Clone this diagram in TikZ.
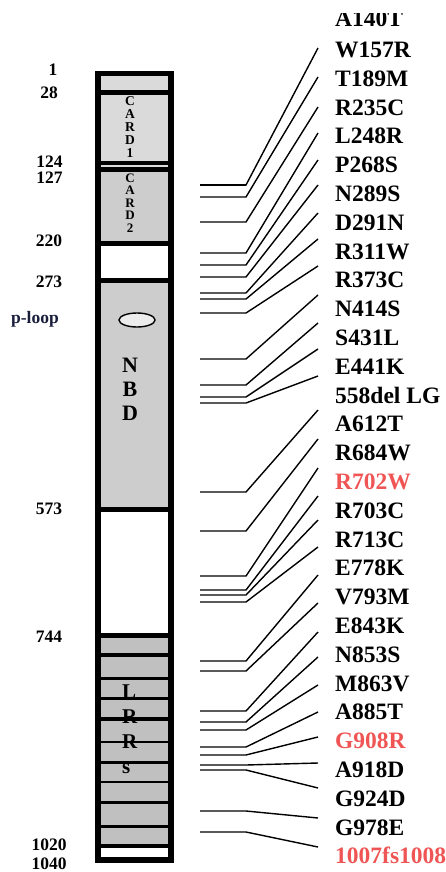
\documentclass[tikz,border=0pt]{standalone}
\usepackage{fontspec}
\setmainfont{Liberation Serif}
\usepackage{tikz}
\usetikzlibrary{shapes.geometric}
\definecolor{cardLight}{RGB}{218,218,218}
\definecolor{cardGray}{RGB}{205,205,205}
\definecolor{lrrGray}{RGB}{192,192,192}
\definecolor{mutRed}{RGB}{240,85,85}
\definecolor{loopBlue}{RGB}{25,30,60}

\tikzset{
  mutlabel/.style={anchor=base west, inner sep=0pt, font=\fontsize{23.5}{24}\selectfont\bfseries},
  poslabel/.style={anchor=base, inner sep=0pt, font=\fontsize{17.5}{18}\selectfont\bfseries},
  mutline/.style={line width=1.4pt},
}

\begin{document}
\begin{tikzpicture}[x=1pt,y=-1pt]
\useasboundingbox (0,0) rectangle (446,872);
\fill[white] (0,0) rectangle (446,872);

% protein bar
\fill[black] (95,71) rectangle (174,863);
\fill[cardLight] (101,76) rectangle (168,90);
\fill[cardLight] (101,95) rectangle (168,161);
\fill[cardLight] (101,165) rectangle (168,166.5);
\fill[cardGray] (101,172) rectangle (168,241);
\fill[white] (101,246) rectangle (168,278);
\fill[cardGray] (101,283) rectangle (168,507);
\fill[white] (101,512) rectangle (168,633);
\fill[lrrGray] (101,638) rectangle (168,653);
\fill[lrrGray] (101,657) rectangle (168,677);
\fill[lrrGray] (101,680) rectangle (168,697);
\fill[lrrGray] (101,700) rectangle (168,717);
\fill[lrrGray] (101,721) rectangle (168,741);
\fill[lrrGray] (101,743) rectangle (168,761);
\fill[lrrGray] (101,764) rectangle (168,781);
\fill[lrrGray] (101,783) rectangle (168,801);
\fill[lrrGray] (101,804) rectangle (168,825);
\fill[lrrGray] (101,828) rectangle (168,844);
\fill[white] (101,848) rectangle (168,857);

% domain names
\node[align=center, inner sep=0pt, font=\fontsize{13.5}{13}\selectfont\bfseries] (card1) at (130,127.5) {C\\A\\R\\D\\1};
\node[align=center, inner sep=0pt, font=\fontsize{13}{12.5}\selectfont\bfseries] (card2) at (130,203) {C\\A\\R\\D\\2};
\node[ellipse, draw, line width=1.4pt, fill=gray!15, minimum width=36pt, minimum height=14pt, inner sep=0pt] (ploopmark) at (137,320) {};
\node[align=center, inner sep=0pt, font=\fontsize{22}{24}\selectfont\bfseries] (nbd) at (130,389) {N\\B\\D};
\node[align=left, anchor=west, inner sep=0pt, font=\fontsize{21}{25}\selectfont\bfseries] (lrrs) at (122,729.5) {L\\R\\R\\s};

% residue numbers
\node[poslabel] (p1) at (53,76) {1};
\node[poslabel] (p28) at (49,99) {28};
\node[poslabel] (p124) at (49.5,167) {124};
\node[poslabel] (p127) at (49.5,183) {127};
\node[poslabel] (p220) at (49,246) {220};
\node[poslabel] (p273) at (49,287) {273};
\node[poslabel, text=loopBlue] (ploop) at (35,323.5) {p-loop};
\node[poslabel] (p573) at (49,514) {573};
\node[poslabel] (p744) at (49,642) {744};
\node[poslabel] (p1020) at (49,850) {1020};
\node[poslabel] (p1040) at (49,869) {1040};

% mutations
\begin{scope}
\clip (320,14) rectangle (446,40);
\node[mutlabel] (a140t) at (335,27) {A140T};
\end{scope}
\node[mutlabel] (w157r) at (335,57.5) {W157R};
\node[mutlabel] (t189m) at (335,86.3) {T189M};
\node[mutlabel] (r235c) at (335,115.1) {R235C};
\node[mutlabel] (l248r) at (335,143.9) {L248R};
\node[mutlabel] (p268s) at (335,172.7) {P268S};
\node[mutlabel] (n289s) at (335,201.5) {N289S};
\node[mutlabel] (d291n) at (335,230.3) {D291N};
\node[mutlabel] (r311w) at (335,259.1) {R311W};
\node[mutlabel] (r373c) at (335,287.9) {R373C};
\node[mutlabel] (n414s) at (335,316.7) {N414S};
\node[mutlabel] (s431l) at (335,345.5) {S431L};
\node[mutlabel] (e441k) at (335,374.3) {E441K};
\node[mutlabel] (del558) at (335,403.1) {558del LG};
\node[mutlabel] (a612t) at (335,431.9) {A612T};
\node[mutlabel] (r684w) at (335,460.7) {R684W};
\node[mutlabel, text=mutRed] (r702w) at (335,489.5) {R702W};
\node[mutlabel] (r703c) at (335,518.3) {R703C};
\node[mutlabel] (r713c) at (335,547.1) {R713C};
\node[mutlabel] (e778k) at (335,575.9) {E778K};
\node[mutlabel] (v793m) at (335,604.7) {V793M};
\node[mutlabel] (e843k) at (335,633.5) {E843K};
\node[mutlabel] (n853s) at (335,662.3) {N853S};
\node[mutlabel] (m863v) at (335,691.1) {M863V};
\node[mutlabel] (a885t) at (335,719.9) {A885T};
\node[mutlabel, text=mutRed] (g908r) at (335,748.7) {G908R};
\node[mutlabel] (a918d) at (335,777.5) {A918D};
\node[mutlabel] (g924d) at (335,806.3) {G924D};
\node[mutlabel] (g978e) at (335,835.1) {G978E};
\node[mutlabel, text=mutRed] (fs1007) at (335,863.9) {1007fs1008};

% leader lines
\foreach \i/\ya/\yb in {1/185/48, 2/197/77, 3/222/107, 4/253/133, 5/265/160,
    6/277/185, 7/293/213, 8/299/239, 9/313/266, 10/359/295, 11/385/323,
    12/397/349, 13/403/376, 14/492/410, 15/531/439, 16/576/468, 17/590/496,
    18/595/520, 19/602/547, 20/661/575, 21/671/603, 22/711/632, 23/722/657,
    24/730/685, 25/747/712, 26/755/737, 27/765/763, 28/770/788, 29/811/818,
    30/832/847} {
  \coordinate (s\i) at (200,\ya);
  \coordinate (k\i) at (246,\ya);
  \coordinate (e\i) at (318,\yb);
  \draw[mutline] (s\i) -- (k\i) -- (e\i);
}
\draw[line width=2.2pt] (s1) -- (k1);
\end{tikzpicture}
\end{document}
